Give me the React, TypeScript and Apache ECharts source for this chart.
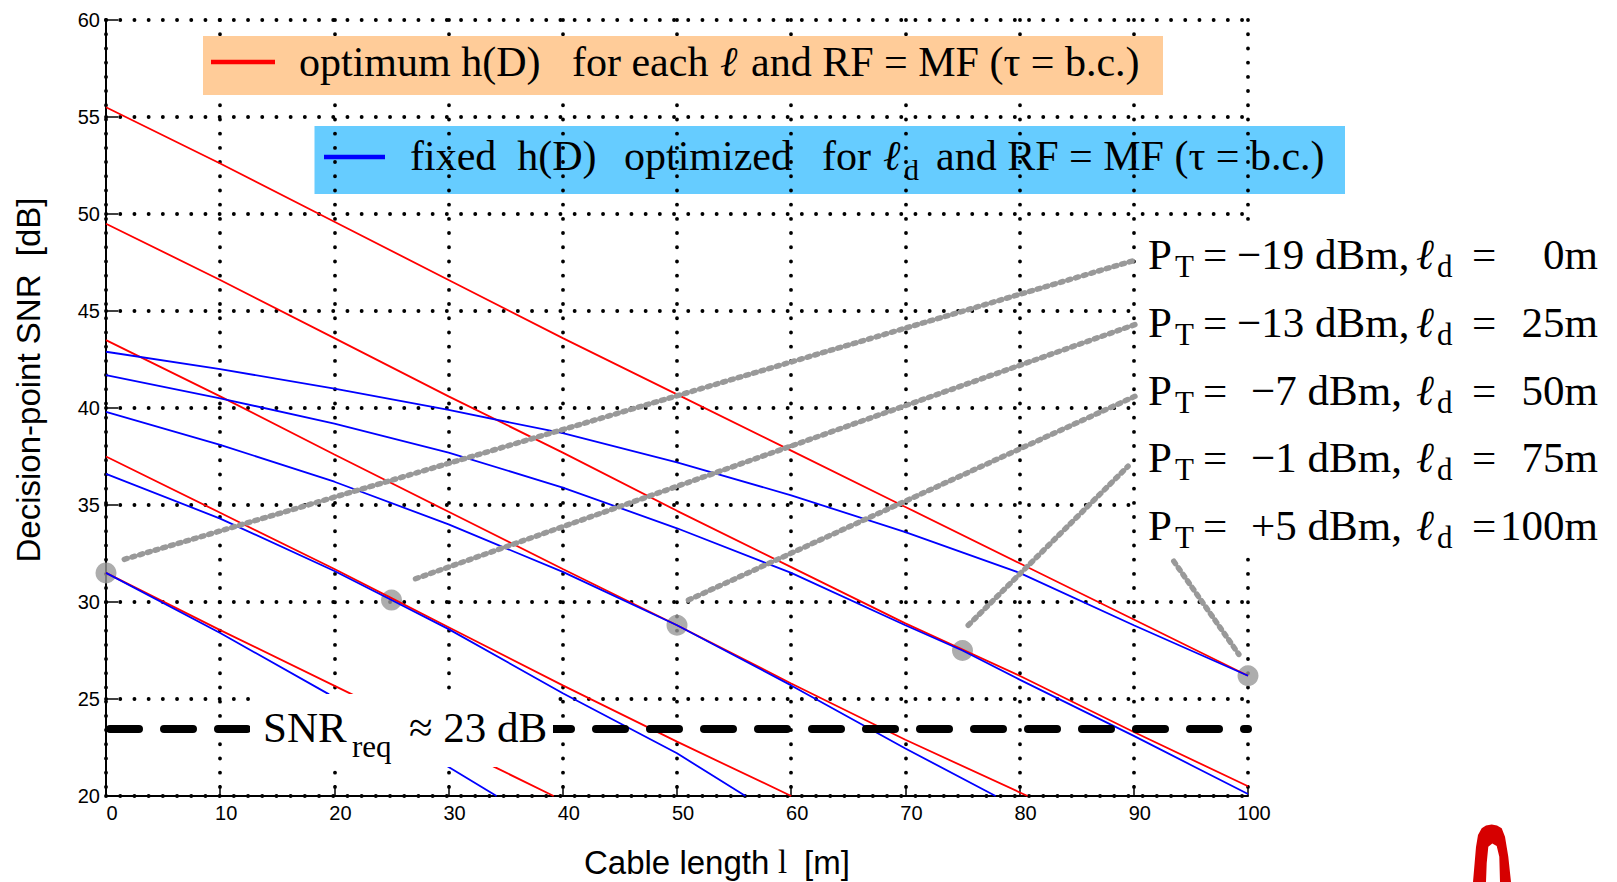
import React, { useEffect, useRef } from "react";
import * as echarts from "echarts";

const SERIF = '"Liberation Serif", "Times New Roman", serif';
const SANS = '"Liberation Sans", Arial, sans-serif';

// optimum h(D) for each ℓ (red), one per transmit power
const optimumM19 = [[0, 31.5], [10, 28.55], [21.5, 25.25], [34, 21.5], [39.2, 20]];
const optimumM13 = [[0, 37.5], [10, 34.6], [20, 31.7], [25, 30.2], [30, 28.7], [40, 25.7], [50, 22.8], [60, 20]];
const optimumM7 = [[0, 43.5], [10, 40.6], [20, 37.6], [30, 34.65], [40, 31.7], [50, 28.8], [60, 25.8], [70, 22.9], [80.7, 20]];
const optimumM1 = [[0, 49.5], [10, 46.6], [20, 43.6], [30, 40.6], [40, 37.7], [50, 34.7], [60, 31.8], [70, 28.9], [80, 26.2], [90, 23.3], [100, 20.5]];
const optimumP5 = [[0, 55.5], [10, 52.6], [20, 49.6], [30, 46.6], [40, 43.6], [50, 40.7], [60, 37.8], [70, 34.9], [80, 32.0], [90, 29.1], [100, 26.2]];

// fixed h(D) optimized for ℓd (blue)
const fixedLd0 = [[0, 31.5], [10, 28.4], [19.5, 25.25], [30, 21.5], [34.2, 20]];
const fixedLd25 = [[0, 36.6], [10, 34.3], [20, 31.6], [25, 30.1], [30, 28.6], [40, 25.3], [50, 22.2], [56, 20]];
const fixedLd50 = [[0, 39.8], [10, 38.1], [20, 36.2], [30, 34.0], [40, 31.55], [50, 28.8], [60, 25.7], [70, 22.45], [77.9, 20]];
const fixedLd75 = [[0, 41.7], [10, 40.5], [20, 39.2], [30, 37.7], [40, 35.9], [50, 33.8], [60, 31.5], [70, 28.8], [75, 27.5], [80, 26.0], [90, 23.1], [95, 21.6], [100, 20.1]];
const fixedLd100 = [[0, 42.9], [10, 42.0], [20, 41.0], [30, 39.9], [40, 38.7], [50, 37.2], [60, 35.5], [70, 33.6], [80, 31.5], [90, 28.8], [100, 26.2]];

// design points (ℓd, SNR)
const designPoints = [[0, 31.5], [25, 30.1], [50, 28.8], [75, 27.5], [100, 26.2]];

// annotation connectors from labels to design points
const connector1 = [[1.6, 32.2], [90, 47.6]];
const connector2 = [[27.1, 31.2], [90.1, 44.3]];
const connector3 = [[51, 30.1], [90.1, 40.6]];
const connector4 = [[75.5, 28.8], [89.5, 37.0]];
const connector5 = [[93.5, 32.1], [99.2, 27.3]];

const snrReq = 23.45;
const snrReqRange = [0, 100];

const ptValues = ["−19", "−13", "−7", "−1", "+5"];
const ldValues = ["0m", "25m", "50m", "75m", "100m"];

const redSeries = [optimumM19, optimumM13, optimumM7, optimumM1, optimumP5];
const blueSeries = [fixedLd0, fixedLd25, fixedLd50, fixedLd75, fixedLd100];
const connectors = [connector1, connector2, connector3, connector4, connector5];

function txt(text: string, x: number, y: number, size: number, extra: any = {}, family = SERIF) {
  const align = extra.align || "left";
  const italic = extra.italic ? "italic " : "";
  return {
    type: "text",
    x,
    y,
    z: 110,
    silent: true,
    rotation: extra.rotation || 0,
    style: {
      text,
      font: `${italic}${size}px ${family}`,
      fill: "#000",
      align,
      verticalAlign: "middle",
      textAlign: align,
      textVerticalAlign: "middle",
    },
  };
}

function buildGraphics() {
  const g: any[] = [];
  // legend boxes
  g.push({ type: "rect", z: 100, silent: true, shape: { x: 203, y: 36, width: 960, height: 59 }, style: { fill: "#FFCC99" } });
  g.push({ type: "rect", z: -1, silent: true, shape: { x: 314.5, y: 126, width: 1030.5, height: 68 }, style: { fill: "#66CCFF" } });
  g.push({ type: "line", z: 110, silent: true, shape: { x1: 211, y1: 62, x2: 275, y2: 62 }, style: { stroke: "#FF0000", lineWidth: 4.5 } });
  g.push({ type: "line", z: 110, silent: true, shape: { x1: 324, y1: 157, x2: 385, y2: 157 }, style: { stroke: "#0000FF", lineWidth: 4.5 } });
  g.push(txt("optimum h(D)", 299, 62, 42));
  g.push(txt("for each", 572, 62, 42));
  g.push(txt("ℓ", 720, 62, 42, { italic: true }));
  g.push(txt("and RF = MF (τ = b.c.)", 751, 62, 42));
  g.push(txt("fixed  h(D)", 410, 156, 42));
  g.push(txt("optimized", 624, 156, 42));
  g.push(txt("for", 822, 156, 42));
  g.push(txt("ℓ", 883, 156, 42, { italic: true }));
  g.push(txt("d", 904, 169, 30));
  g.push(txt("and RF = MF (τ = b.c.)", 936, 156, 42));

  // SNR requirement label
  g.push({ type: "rect", z: 100, silent: true, shape: { x: 250, y: 694, width: 303, height: 73 }, style: { fill: "#fff" } });
  g.push(txt("SNR", 263, 727, 43));
  g.push(txt("req", 352, 746, 31));
  g.push(txt("≈ 23 dB", 409, 727, 43));

  // right-hand labels
  g.push({ type: "rect", z: 100, silent: true, shape: { x: 1138, y: 228, width: 479, height: 326 }, style: { fill: "#fff" } });
  const rowY = [254, 322, 390, 457, 525];
  ptValues.forEach((pt, i) => {
    const y = rowY[i];
    g.push(txt("P", 1148, y, 43));
    g.push(txt("T", 1175, y + 12, 31));
    g.push(txt("=", 1203, y, 43));
    g.push(txt(`${pt} dBm,`, pt.length > 2 ? 1237 : 1251, y, 43));
    g.push(txt("ℓ", 1416, y, 43, { italic: true }));
    g.push(txt("d", 1437, y + 12, 31));
    g.push(txt("=", 1472, y, 43));
    g.push(txt(ldValues[i], 1598, y, 43, { align: "right" }));
  });

  // axis titles
  g.push(txt("Decision-point SNR  [dB]", 28, 380, 33, { align: "center", rotation: Math.PI / 2 }, SANS));
  g.push(txt("Cable length", 584, 862, 33, {}, SANS));
  g.push(txt("l", 778, 862, 33));
  g.push(txt("[m]", 804, 862, 33, {}, SANS));

  // red logo fragment
  g.push({
    type: "polygon",
    z: 100,
    silent: true,
    shape: {
      points: [
        [1473, 882], [1476, 847], [1478, 835], [1481.7, 828.3], [1486, 825.5], [1491.7, 824.5], [1497, 825.5], [1501.7, 828.3],
        [1505, 836.7], [1508.3, 856.7], [1511, 882], [1500, 882], [1499.3, 856.7], [1496.7, 846], [1492.3, 843.5],
        [1488.3, 846.7], [1486.7, 863.3], [1486, 882],
      ],
    },
    style: { fill: "#D60000" },
  });
  return g;
}

function buildOption() {
  const dotted = { color: "#000", width: 3.8, type: [0.1, 14.1], cap: "round" };
  const series: any[] = [];
  series.push({
    type: "scatter",
    data: designPoints,
    symbolSize: 21,
    itemStyle: { color: "#999999" },
    z: 1,
    clip: false,
    silent: true,
  });
  redSeries.forEach((d) =>
    series.push({ type: "line", data: d, symbol: "none", lineStyle: { color: "#FF0000", width: 1.8 }, z: 2, silent: true })
  );
  blueSeries.forEach((d) =>
    series.push({ type: "line", data: d, symbol: "none", lineStyle: { color: "#0000FF", width: 1.8 }, z: 2, silent: true })
  );
  series.push({
    type: "line",
    data: snrReqRange.map((x) => [x, snrReq]),
    symbol: "none",
    lineStyle: { color: "#000", width: 8, type: [29, 25], cap: "round", dashOffset: -4 },
    z: 2,
    silent: true,
  });
  connectors.forEach((d) =>
    series.push({
      type: "line",
      data: d,
      symbol: "none",
      lineStyle: { color: "#999999", width: 5.5, type: [3, 5], cap: "round" },
      z: 3,
      silent: true,
    })
  );

  return {
    animation: false,
    backgroundColor: "#fff",
    grid: { left: 106, top: 20, width: 1142, height: 776, containLabel: false },
    xAxis: {
      type: "value",
      min: 0,
      max: 100,
      interval: 10,
      axisLine: { show: true, onZero: false, lineStyle: { color: "#000", width: 2 } },
      axisTick: { show: true, inside: true, length: 11, lineStyle: { color: "#000", width: 1.5 } },
      axisLabel: { color: "#000", fontFamily: SANS, fontSize: 20, margin: 7, padding: [0, 0, 0, 12] },
      splitLine: { show: true, lineStyle: dotted },
    },
    yAxis: {
      type: "value",
      min: 20,
      max: 60,
      interval: 5,
      axisLine: { show: true, onZero: false, lineStyle: { color: "#000", width: 2 } },
      axisTick: { show: true, inside: true, length: 12, lineStyle: { color: "#000", width: 1.5 } },
      axisLabel: { color: "#000", fontFamily: SANS, fontSize: 20, margin: 6 },
      splitLine: { show: true, lineStyle: dotted },
    },
    graphic: { elements: buildGraphics() },
    series,
  };
}

export default function App() {
  const ref = useRef<HTMLDivElement>(null);
  useEffect(() => {
    const chart = echarts.init(ref.current as HTMLDivElement, null, { renderer: "svg" });
    chart.setOption(buildOption() as any);
    return () => chart.dispose();
  }, []);
  return (
    <div
      ref={ref}
      style={{ position: "fixed", left: 0, top: 0, width: 1617, height: 882, background: "#fff" }}
    />
  );
}
